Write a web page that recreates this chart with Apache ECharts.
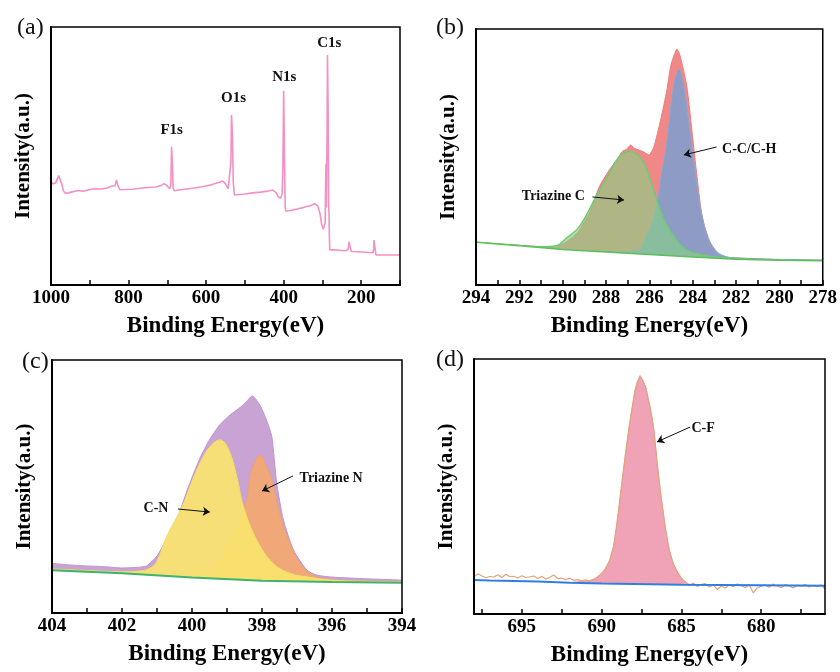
<!DOCTYPE html>
<html>
<head>
<meta charset="utf-8">
<script src="https://cdn.jsdelivr.net/npm/echarts@6/dist/echarts.min.js"></script>
<style>
  html, body { margin: 0; padding: 0; background: #fff; }
  #chart { width: 840px; height: 672px; }
</style>
</head>
<body>
<div id="chart"></div>
<script>
// (a) survey spectrum [BE, intensity a.u.]
const surveyData = [[1000,40.0],[996,39.2],[992,38.9],[988,39.5],[980,42.4],[976,42.0],[972,39.0],[968,36.5],[963,35.6],[955,35.7],[945,36.1],[930,36.6],[915,36.4],[900,37.0],[885,37.3],[870,37.2],[855,37.6],[845,38.3],[840,37.6],[835,38.5],[831,40.7],[827,38.2],[822,36.9],[810,37.0],[790,37.1],[770,37.5],[750,37.8],[730,38.0],[715,38.7],[708,39.3],[700,38.4],[694,37.3],[691,38.5],[689,53.6],[687,47],[685,37.5],[682,36.5],[670,36.8],[650,37.2],[630,37.6],[610,38.1],[590,38.7],[575,39.4],[565,39.8],[557,40.3],[550,39.2],[543,37.3],[538,36.9],[536,48],[534.5,65.9],[532,58],[530,40],[527,34.9],[520,35.0],[500,35.3],[480,35.7],[460,36.0],[440,36.4],[428,36.8],[420,35.9],[414,34.2],[408,33.6],[404,35.2],[402,45],[400,75.2],[398,50],[396,30],[394,28.7],[385,28.8],[370,29.3],[350,30.0],[330,30.8],[320,31.5],[316,31.9],[312,30.6],[306,27.5],[302,23.5],[298,21.6],[295,21.3],[293,24],[291,47],[290,30],[288,60],[287,89.1],[285.5,70],[284,32],[283,27],[282,18],[281,13.6],[270,13.6],[250,13.4],[240,13.3],[234,13.8],[231,16.8],[229,14.6],[225,13.0],[210,12.9],[195,12.8],[180,12.6],[170,12.5],[168,14],[167,17.4],[165,15],[162,11.6],[140,11.6],[120,11.6],[100,11.6]];
const surveyPeaks = [['F1s',688.8,60.1],['O1s',529.3,72.5],['N1s',398.2,80.6],['C1s',282.4,93.8]];

// (b) C1s
const c1sRaw = [[294,16.6],[293,16.0],[292,15.5],[291,14.9],[290.3,14.8],[289.9,16.5],[289.5,19.0],[289.23,21.5],[288.77,28.1],[288.31,38.4],[287.85,44.9],[287.5,48.9],[287.26,52.1],[287.05,53.0],[286.86,54.7],[286.7,53.5],[286.48,52.7],[286.25,51.9],[286.02,50.8],[285.79,54.0],[285.48,64.5],[285.19,76.2],[285.02,85.3],[284.85,90.0],[284.73,92.1],[284.62,90.5],[284.5,86.7],[284.27,77.5],[284.04,60.5],[283.82,43.7],[283.59,28.1],[283.27,17.6],[282.81,11.7],[282.4,10.8],[281,10.2],[280,9.9],[279,9.8],[278,9.7]];
const c1sCC = [[288.5,13.2],[287.5,12.9],[286.6,13.3],[286.1,19.5],[285.73,28.5],[285.48,41.0],[285.18,56.6],[284.9,76.5],[284.64,84.0],[284.4,77],[284.18,63.3],[283.88,43.7],[283.65,30.6],[283.36,20.3],[282.96,13.7],[282.5,11.2],[282,10.6],[280,10.0],[278,9.7]];
const c1sTriazine = [[294,16.7],[292,15.4],[291,14.9],[290.3,15.3],[289.84,18.2],[289.23,22.8],[288.46,34.5],[287.85,43.6],[287.4,50.0],[286.94,52.1],[286.5,50.5],[286.17,46.2],[285.71,34.5],[285.25,24.1],[284.64,16.3],[284.2,13.3],[283.59,11.8],[283,10.9],[282,10.3],[280,9.8],[278,9.6]];
const c1sBg = [[294,16.7],[292,15.3],[290,13.9],[288,12.9],[286,11.9],[284,10.9],[282,10.1],[280,9.7],[278,9.5]];

// (c) N1s
const n1sRaw = [[404,19.6],[403.5,19.0],[403,18.6],[402.5,18.3],[402,17.8],[401.6,18.0],[401.3,18.6],[401.0,22.5],[400.7,30],[400.4,38.3],[400.1,50],[399.77,61.3],[399.5,68.5],[399.2,74.5],[398.91,78.3],[398.6,81.5],[398.45,83.5],[398.28,85.8],[398.06,82.2],[397.87,76.3],[397.72,69.7],[397.58,51.4],[397.39,36.8],[397.1,24.9],[396.72,17.0],[396.44,15.0],[396,14.2],[395,13.5],[394,13.0]];
const n1sCN = [[404,17.4],[403,16.8],[402,16.3],[401.5,16.6],[401.2,17.7],[401.0,20.5],[400.72,30.4],[400.3,41.5],[400.0,52],[399.77,59.3],[399.5,65.5],[399.2,68.4],[398.95,64.5],[398.72,53.9],[398.53,42.0],[398.15,28.9],[397.68,19.6],[397.2,15.7],[396.72,14.3],[396,13.0],[395,12.5],[394,12.3]];
const n1sTriazine = [[401,15.0],[400.2,14.8],[399.8,15.3],[399.49,16.3],[399.2,21.0],[398.82,31.6],[398.44,44.7],[398.34,54],[398.2,60],[398.06,62.5],[397.9,59],[397.72,52.6],[397.49,39.4],[397.2,27.5],[396.91,19.6],[396.63,15.7],[396.2,13.5],[395,12.6],[394,12.4]];
const n1sBg = [[404,16.9],[402,15.7],[400,14.0],[398,12.7],[396,12.3],[394,12.0]];

// (d) F1s
const f1sRaw = [[698,14.6],[697.75,15.8],[697.5,14.9],[697.25,14.2],[697,14.7],[696.75,14.5],[696.5,15.4],[696.25,14.3],[696,15.6],[695.75,14.6],[695.5,14.8],[695.25,14.1],[695,15.0],[694.75,14.3],[694.5,14.6],[694.25,14.9],[694,13.9],[693.75,14.8],[693.5,13.6],[693.25,14.4],[693,15.3],[692.75,13.9],[692.5,14.1],[692.25,13.5],[692,14.0],[691.75,13.2],[691.5,13.5],[691.25,13.0],[691,13.4],[690.75,12.9],[690.5,13.6],[690.25,14.4],[690,15.8],[689.75,17.9],[689.5,21.0],[689.25,26.5],[689,37.5],[688.75,50.5],[688.5,63],[688.25,74.5],[688,84],[687.75,90.8],[687.6,93.5],[687.5,92.3],[687.25,89.2],[687,82],[686.75,73],[686.5,58],[686.25,44.5],[686,33.5],[685.75,24.8],[685.5,19.5],[685.25,16.4],[685,13.9],[684.75,12.6],[684.5,11.2],[684.25,12.1],[684,10.8],[683.75,11.6],[683.5,11.9],[683.25,10.6],[683,11.4],[682.75,9.6],[682.5,11.0],[682.25,10.2],[682,11.5],[681.75,10.7],[681.5,11.8],[681.25,11.1],[681,10.4],[680.75,11.6],[680.5,8.3],[680.25,10.2],[680,10.9],[679.75,11.4],[679.5,10.5],[679.25,11.7],[679,11.0],[678.75,10.3],[678.5,11.5],[678.25,11.1],[678,10.2],[677.75,11.3],[677.5,10.9],[677.25,11.6],[677,10.6],[676.75,11.2],[676.5,10.8],[676.25,11.4],[676,9.8]];
const f1sCF = [[692,12.4],[691,12.9],[690.5,13.6],[690.13,15.3],[689.71,18.2],[689.29,25.4],[688.98,38.4],[688.67,54.1],[688.35,69.8],[688.04,82.9],[687.8,90.5],[687.55,92.7],[687.35,90.5],[687.21,88.1],[686.79,75.0],[686.48,56.7],[686.17,41.1],[685.86,28.0],[685.6,21.5],[685.33,17.5],[684.92,13.6],[684.5,11.7],[684,11.6]];
const f1sBg = [[698,13.3],[697,13.1],[694,12.7],[692,12.3],[690,12.0],[688,11.8],[685,11.5],[680,11.3],[676,11.1]];

const font = '"Liberation Serif","Times New Roman",serif';

const grids = [
  { left: 51, top: 27, width: 349, height: 258 },
  { left: 476, top: 29, width: 349, height: 256 },
  { left: 52, top: 360, width: 350, height: 253 },
  { left: 474, top: 359, width: 351, height: 255 }
];

function xAxis(i, min, max, extra) {
  const ax = {
    type: 'value', gridIndex: i, min: min, max: max, inverse: true, z: 10,
    name: 'Binding Energy(eV)', nameLocation: 'middle', nameGap: 30,
    nameTextStyle: { fontFamily: font, fontWeight: 'bold', fontSize: 23, color: '#000' },
    axisLine: { show: true, onZero: false, lineStyle: { color: '#000', width: 2 } },
    axisTick: { show: true, inside: true, length: 5, lineStyle: { color: '#000', width: 1.5 } },
    axisLabel: { fontFamily: font, fontWeight: 'bold', fontSize: 19, color: '#000', margin: 4 },
    splitLine: { show: false }
  };
  return echarts.util.merge(ax, extra, true);
}
function yAxis(i) {
  return {
    type: 'value', gridIndex: i, min: 0, max: 100, z: 10,
    name: 'Intensity(a.u.)', nameLocation: 'middle', nameGap: 17,
    nameTextStyle: { fontFamily: font, fontWeight: 'bold', fontSize: 21, color: '#000' },
    axisLine: { show: true, onZero: false, lineStyle: { color: '#000', width: 2 } },
    axisTick: { show: false }, axisLabel: { show: false }, splitLine: { show: false }
  };
}

function area(i, data, fill, opacity, line, lw, z, smooth) {
  return {
    type: 'line', xAxisIndex: i, yAxisIndex: i, data: data, symbol: 'none', z: z,
    smooth: smooth, silent: true,
    lineStyle: { color: line, width: lw },
    areaStyle: { color: fill, opacity: opacity }
  };
}
function cover(i, data, z) {
  return {
    type: 'line', xAxisIndex: i, yAxisIndex: i, data: data, symbol: 'none', z: z, silent: true,
    lineStyle: { width: 0 }, areaStyle: { color: '#fff', opacity: 1 }
  };
}
function marks(texts, arrows) {
  return {
    markPoint: {
      silent: true, animation: false,
      data: texts.map(t => ({
        coord: [t[1], t[2]], symbol: 'rect', symbolSize: 1,
        itemStyle: { color: 'rgba(0,0,0,0)' },
        label: { show: true, formatter: t[0], position: t[3] || 'inside', distance: 0,
          fontFamily: font, fontWeight: 'bold', fontSize: t[4] || 14, color: '#111' }
      }))
    },
    markLine: {
      silent: true, animation: false, symbol: ['none', 'arrow'], symbolSize: 7,
      label: { show: false },
      lineStyle: { color: '#111', width: 1, type: 'solid' },
      data: arrows.map(a => [{ coord: [a[0], a[1]] }, { coord: [a[2], a[3]] }])
    }
  };
}

const chart = echarts.init(document.getElementById('chart'), null, { renderer: 'canvas' });

const option = {
  animation: false,
  backgroundColor: '#fff',
  title: [
    { text: '(a)', left: 12, top: 11 },
    { text: '(b)', left: 431, top: 11 },
    { text: '(c)', left: 17, top: 345 },
    { text: '(d)', left: 431, top: 343 }
  ].map(t => Object.assign(t, { textStyle: { fontFamily: font, fontWeight: 'normal', fontSize: 24, color: '#111' } })),
  grid: grids.map(g => Object.assign(g, { show: true, z: 10, backgroundColor: 'transparent', borderColor: '#000', borderWidth: 1.5 })),
  xAxis: [
    xAxis(0, 100, 1000, { interval: 100, axisLabel: { formatter: v => (v % 200 === 0 ? v : '') } }),
    xAxis(1, 278, 294, { interval: 2, minorTick: { show: true, splitNumber: 2, length: 5, lineStyle: { color: '#000', width: 1.5 } } }),
    xAxis(2, 394, 404, { interval: 2, minorTick: { show: true, splitNumber: 2, length: 5, lineStyle: { color: '#000', width: 1.5 } } }),
    xAxis(3, 676, 698, {
      axisLabel: { customValues: [680, 685, 690, 695] },
      axisTick: { customValues: [677.5, 680, 682.5, 685, 687.5, 690, 692.5, 695, 697.5] }
    })
  ],
  yAxis: [yAxis(0), yAxis(1), yAxis(2), yAxis(3)],
  series: [
    // (a)
    Object.assign({
      type: 'line', xAxisIndex: 0, yAxisIndex: 0, data: surveyData, symbol: 'none', z: 3,
      lineStyle: { color: '#f590c4', width: 1.6 }
    }, marks(surveyPeaks.map(p => [p[0], p[1], p[2], 'inside', 15]), [])),

    // (b)
    area(1, c1sRaw, '#f08282', 0.95, '#f07a7a', 1, 2, 0.2),
    area(1, c1sCC, '#7c9fd0', 0.85, '#8aa6d8', 1, 3, 0.4),
    area(1, c1sTriazine, '#84d384', 0.6, '#70cc70', 1.5, 4, 0.4),
    cover(1, c1sBg, 5),
    Object.assign({
      type: 'line', xAxisIndex: 1, yAxisIndex: 1, data: c1sBg, symbol: 'none', z: 6, silent: true,
      lineStyle: { color: '#5cbf5c', width: 1.5 }
    }, marks(
      [['C-C/C-H', 282.67, 53, 'right'], ['Triazine C', 288.95, 34.8, 'left']],
      [[282.9, 53.9, 284.41, 50.8], [288.63, 34.4, 287.17, 33.2]]
    )),

    // (c)
    area(2, n1sRaw, '#c9a3d4', 1, '#c094d0', 1, 2, 0.2),
    area(2, n1sTriazine, '#f0a878', 1, '#eda274', 1, 3, 0.4),
    area(2, n1sCN, '#f9e46e', 0.92, '#f6e060', 1, 4, 0.4),
    cover(2, n1sBg, 5),
    Object.assign({
      type: 'line', xAxisIndex: 2, yAxisIndex: 2, data: n1sBg, symbol: 'none', z: 6, silent: true,
      lineStyle: { color: '#3db36b', width: 2 }
    }, marks(
      [['Triazine N', 396.94, 53.4, 'right'], ['C-N', 400.66, 41.5, 'left']],
      [[397.11, 54.2, 398.0, 48.2], [400.4, 41.1, 399.49, 39.9]]
    )),

    // (d)
    area(3, f1sCF, '#f0a2b6', 1, '#ee9cb2', 1, 2, 0.4),
    cover(3, f1sBg, 3),
    {
      type: 'line', xAxisIndex: 3, yAxisIndex: 3, data: f1sRaw, symbol: 'none', z: 4, silent: true,
      lineStyle: { color: '#e3a47c', width: 1.2 }
    },
    Object.assign({
      type: 'line', xAxisIndex: 3, yAxisIndex: 3, data: f1sBg, symbol: 'none', z: 5, silent: true,
      lineStyle: { color: '#2f7fe3', width: 2 }
    }, marks(
      [['C-F', 684.4, 72.9, 'right']],
      [[684.46, 73.3, 686.53, 67.5]]
    ))
  ]
};

chart.setOption(option);
</script>
</body>
</html>
